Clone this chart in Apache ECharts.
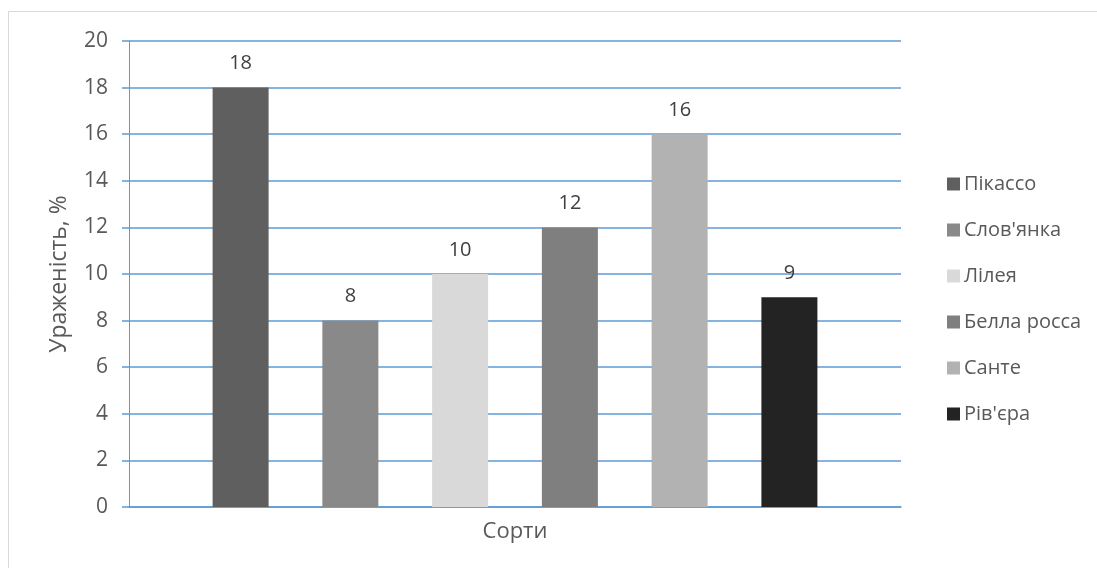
<!DOCTYPE html>
<html>
<head>
<meta charset="utf-8">
<script src="https://cdn.jsdelivr.net/npm/echarts@6/dist/echarts.min.js"></script>
<style>
  html, body { margin: 0; padding: 0; background: #fff; }
  #chart { width: 1097px; height: 568px; }
</style>
</head>
<body>
<div id="chart"></div>
<script>
// Ураженість сортів, %
const varieties = ['Пікассо', "Слов'янка", 'Лілея', 'Белла росса', 'Санте', "Рів'єра"];
const damage = [18, 8, 10, 12, 16, 9];
const barColors = ['#5f5f5f', '#898989', '#d9d9d9', '#7f7f7f', '#b2b2b2', '#232323'];
const yTicks = [0, 2, 4, 6, 8, 10, 12, 14, 16, 18, 20];

const FONT = '"Open Sans", "Noto Sans", sans-serif';
const TEXT = '#595959';
const BLUE = '#5b9bd5';

const series = varieties.map((name, i) => ({
  name: name,
  type: 'bar',
  data: [damage[i]],
  barWidth: 56,
  barGap: '96%',
  itemStyle: { color: barColors[i] },
  label: {
    show: true,
    position: 'top',
    distance: 14,
    color: '#404040',
    fontFamily: FONT,
    fontSize: 20
  }
}));

const chart = echarts.init(document.getElementById('chart'));
chart.setOption({
  animation: false,
  backgroundColor: '#fff',
  graphic: [{
    type: 'rect',
    shape: { x: 8.5, y: 11.5, width: 1200, height: 700 },
    style: { fill: 'none', stroke: '#d9d9d9', lineWidth: 1 },
    silent: true,
    z: -1
  }],
  grid: { left: 129, right: 196, top: 41, bottom: 61 },
  legend: {
    orient: 'vertical',
    left: 942,
    top: 169,
    itemWidth: 13,
    itemHeight: 13,
    itemGap: 26,
    icon: 'rect',
    textStyle: { color: TEXT, fontFamily: FONT, fontSize: 20, lineHeight: 20, padding: [0, 0, 0, -1] },
    data: varieties
  },
  xAxis: {
    type: 'category',
    data: [''],
    name: 'Сорти',
    nameLocation: 'middle',
    nameGap: 14,
    nameTextStyle: { color: TEXT, fontFamily: FONT, fontSize: 22 },
    axisLine: { show: true, lineStyle: { color: BLUE, width: 1.5 } },
    axisTick: { show: false },
    axisLabel: { show: false }
  },
  yAxis: {
    type: 'value',
    min: 0,
    max: 20,
    interval: 2,
    name: 'Ураженість, %',
    nameLocation: 'middle',
    nameGap: 58,
    nameTextStyle: { color: TEXT, fontFamily: FONT, fontSize: 23 },
    axisLine: { show: true, lineStyle: { color: BLUE, width: 1 } },
    axisTick: { show: true, length: 7, inside: false, lineStyle: { color: BLUE, width: 1.5 } },
    axisLabel: {
      color: TEXT, fontFamily: FONT, fontSize: 21, margin: 21,
      formatter: v => (yTicks.includes(v) ? String(v) : '')
    },
    splitLine: { show: true, lineStyle: { color: BLUE, width: 1.5 } }
  },
  series: series
});
</script>
</body>
</html>
